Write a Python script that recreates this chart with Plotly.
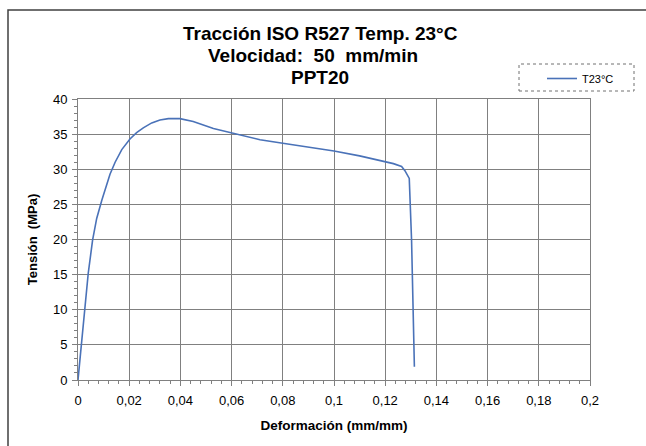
import plotly.graph_objects as go

strain = [0.0, 0.0027, 0.004, 0.0057, 0.0073, 0.0093, 0.0112, 0.0125, 0.0145, 0.0171,
          0.0203, 0.0229, 0.0255, 0.0288, 0.032, 0.0353, 0.0398, 0.045, 0.0529, 0.06,
          0.0711, 0.08, 0.09, 0.1, 0.11, 0.118, 0.1232, 0.1264, 0.1277, 0.1294, 0.1303, 0.1314]
stress = [0.0, 10.0, 15.2, 19.9, 23.0, 25.6, 27.8, 29.3, 31.0, 32.8,
          34.3, 35.2, 35.9, 36.6, 37.0, 37.2, 37.2, 36.8, 35.8, 35.2,
          34.2, 33.7, 33.2, 32.6, 31.9, 31.2, 30.8, 30.4, 29.8, 28.7, 19.9, 1.9]

x_tickvals = [0, 0.02, 0.04, 0.06, 0.08, 0.1, 0.12, 0.14, 0.16, 0.18, 0.2]
x_ticktext = ["0", "0,02", "0,04", "0,06", "0,08", "0,1", "0,12", "0,14", "0,16", "0,18", "0,2"]
y_tickvals = [0, 5, 10, 15, 20, 25, 30, 35, 40]

series_name = "T23°C"
title_lines = ["Tracción ISO R527 Temp. 23°C", "Velocidad:  50  mm/min", "PPT20"]

fig = go.Figure()
fig.add_trace(go.Scatter(x=strain, y=stress, mode="lines", name=series_name,
                         line=dict(color="#4a72b8", width=1.6)))

W, H = 646, 446
L, R, T, B = 78, 56, 99, 66
pw, ph = W - L - R, H - T - B

def px(x):
    return (x - L) / pw

def py(y):
    return (H - B - y) / ph

font = "Liberation Sans, Arial, sans-serif"
fig.update_layout(
    width=W, height=H,
    margin=dict(l=L, r=R, t=T, b=B, autoexpand=False),
    paper_bgcolor="white", plot_bgcolor="white",
    font=dict(family=font, color="black", size=13),
    showlegend=True,
    legend=dict(x=px(542), y=py(64), xanchor="left", yanchor="top",
                bgcolor="rgba(0,0,0,0)", font=dict(size=11), itemwidth=30),
    xaxis=dict(range=[0, 0.2], tickvals=x_tickvals, ticktext=x_ticktext,
               showgrid=True, gridcolor="#808080", gridwidth=1,
               showline=True, linecolor="#808080", mirror=True, zeroline=False,
               ticks="outside", ticklen=5, tickcolor="#808080", ticklabelstandoff=3,
               minor=dict(dtick=0.004, ticks="outside", ticklen=3, tickcolor="#808080", showgrid=False),
               title=dict(text="<b>Deformación (mm/mm)</b>", font=dict(size=13.5), standoff=13),
               tickfont=dict(size=13)),
    yaxis=dict(range=[0, 40], tickvals=y_tickvals,
               showgrid=True, gridcolor="#808080", gridwidth=1,
               showline=True, linecolor="#808080", mirror=True, zeroline=False,
               ticks="outside", ticklen=5, tickcolor="#808080", ticklabelstandoff=2,
               minor=dict(dtick=1, ticks="outside", ticklen=3, tickcolor="#808080", showgrid=False),
               title=dict(text="<b>Tensión  (MPa)</b>", font=dict(size=13), standoff=12),
               tickfont=dict(size=13)),
)

title_x = [320, 313, 320]
title_y = [33, 55, 77]
for txt, tx, ty in zip(title_lines, title_x, title_y):
    fig.add_annotation(text="<b>" + txt.replace("  ", "&nbsp; ") + "</b>", xref="paper", yref="paper",
                       x=px(tx), y=py(ty), xanchor="center", yanchor="middle",
                       showarrow=False, font=dict(size=19, family=font, color="black"))

fig.add_shape(type="rect", xref="paper", yref="paper",
              x0=px(519), x1=px(634), y0=py(91), y1=py(64),
              line=dict(color="#707070", width=1, dash="dot"))
fig.add_shape(type="rect", xref="paper", yref="paper",
              x0=px(8), x1=px(660), y0=py(460), y1=py(10),
              line=dict(color="#404040", width=1.5))

fig.write_html("out.html", config={"displayModeBar": False},
               post_script="document.body.style.margin='0';document.body.style.overflow='hidden';")
